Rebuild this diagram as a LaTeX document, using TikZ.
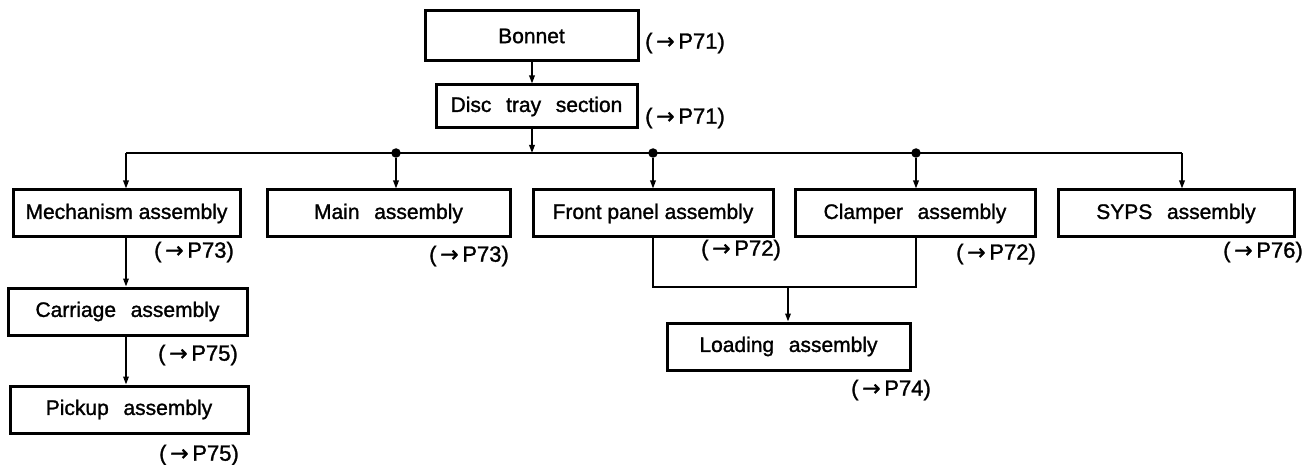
\documentclass[tikz,border=0pt]{standalone}
\usepackage{fontspec}
\setmainfont{Liberation Sans}[FakeBold=1.3]
\newfontfamily\arrfont{DejaVu Sans}[FakeBold=1.3]
\usetikzlibrary{arrows.meta}
\newcommand{\ws}{\hspace{0.7em}}
\newcommand{\rf}[1]{(\,{\arrfont →}\,P#1)}
\begin{document}
\begin{tikzpicture}[x=1pt,y=-1pt,
  box/.style={draw,line width=3pt,rectangle,inner sep=0pt,font=\fontsize{21}{24}\selectfont},
  lbl/.style={anchor=east,inner sep=0pt,font=\fontsize{22}{24}\selectfont},
  conn/.style={line width=1.7pt},
  arr/.style={line width=1.7pt,-{Triangle[length=8pt,width=5.5pt]}},
  dot/.style={circle,fill,inner sep=0pt,minimum size=9.5pt}]
\useasboundingbox (0,0) rectangle (1312,465);

\node[box,minimum width=213pt,minimum height=50pt] (bonnet) at (531.5,36) {Bonnet};
\node[box,minimum width=201pt,minimum height=43pt] (disc) at (536.5,106.5) {Disc\ws tray\ws section};
\node[box,minimum width=227pt,minimum height=47pt] (mech) at (126.5,213.5) {Mechanism assembly};
\node[box,minimum width=243pt,minimum height=47pt] (main) at (388.5,213.5) {Main\ws assembly};
\node[box,minimum width=240pt,minimum height=47pt] (front) at (653,213.5) {Front panel assembly};
\node[box,minimum width=240pt,minimum height=47pt] (clamp) at (915,213.5) {Clamper\ws assembly};
\node[box,minimum width=236pt,minimum height=47pt] (syps) at (1176,213.5) {SYPS\ws assembly};
\node[box,minimum width=239pt,minimum height=47pt] (carr) at (127.5,311.5) {Carriage\ws assembly};
\node[box,minimum width=238pt,minimum height=47pt] (pick) at (129,409.5) {Pickup\ws assembly};
\node[box,minimum width=243pt,minimum height=47pt] (load) at (788.5,346.5) {Loading\ws assembly};

\node[lbl] (lbonnet) at (725,43) {\rf{71}};
\node[lbl] (ldisc) at (725,118) {\rf{71}};
\node[lbl] (lmech) at (234,252) {\rf{73}};
\node[lbl] (lmain) at (509,256) {\rf{73}};
\node[lbl] (lfront) at (781,250) {\rf{72}};
\node[lbl] (lclamp) at (1036,254) {\rf{72}};
\node[lbl] (lsyps) at (1303,252) {\rf{76}};
\node[lbl] (lcarr) at (238,355) {\rf{75}};
\node[lbl] (lpick) at (239,455) {\rf{75}};
\node[lbl] (lload) at (931,390) {\rf{74}};

\coordinate (busL) at (126,153);
\coordinate (busR) at (1182,153);
\coordinate (busM) at (532,153);
\node[dot] (j1) at (396,153) {};
\node[dot] (j2) at (653,153) {};
\node[dot] (j3) at (916,153) {};
\coordinate (merge) at (788,287);

\draw[arr] (bonnet.south -| busM) -- (disc.north -| busM);
\draw[arr] (disc.south -| busM) -- (busM);
\draw[conn] (busL) -- (busR);
\draw[arr] (busL) -- (mech.north -| busL);
\draw[arr] (j1) -- (main.north -| j1);
\draw[arr] (j2) -- (front.north -| j2);
\draw[arr] (j3) -- (clamp.north -| j3);
\draw[arr] (busR) -- (syps.north -| busR);
\draw[arr] (mech.south -| busL) -- (carr.north -| busL);
\draw[arr] (carr.south -| busL) -- (pick.north -| busL);
\draw[conn] (front.south -| j2) |- (merge) -| (clamp.south -| j3);
\draw[arr] (merge) -- (load.north -| merge);
\end{tikzpicture}
\end{document}
